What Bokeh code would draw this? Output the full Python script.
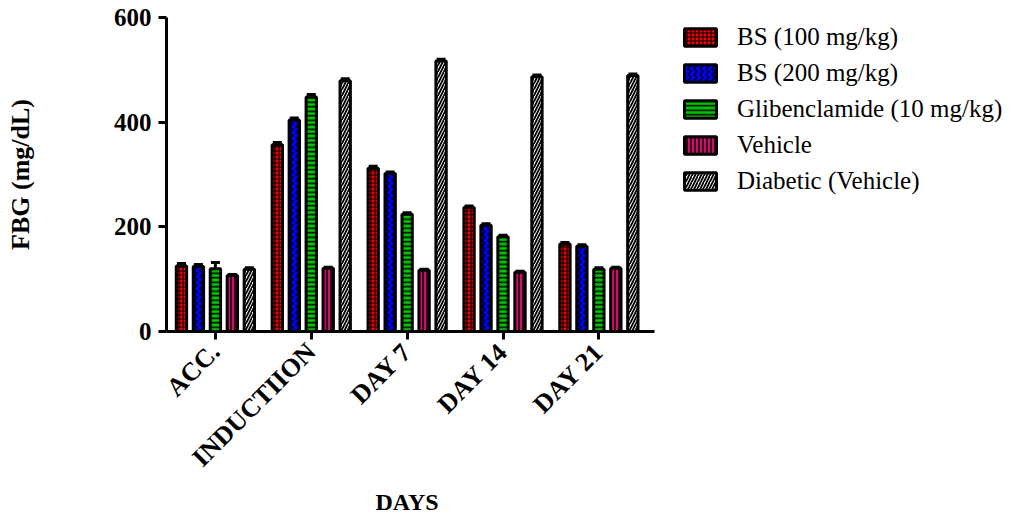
import numpy as np
from bokeh.plotting import figure
from bokeh.models import (Range1d, FixedTicker, Legend, LegendItem, ColumnDataSource,
                          Whisker, TeeHead, Title)
from bokeh.embed import file_html
from bokeh.resources import INLINE

days = ["ACC.", "INDUCTIION", "DAY 7", "DAY 14", "DAY 21"]
series = ["BS (100 mg/kg)", "BS (200 mg/kg)", "Glibenclamide (10 mg/kg)", "Vehicle", "Diabetic (Vehicle)"]
bs100 = [125, 357, 312, 237, 167]
bs200 = [124, 404, 302, 203, 163]
glib = [120, 448, 224, 181, 119]
vehicle = [107, 121, 117, 113, 121]
diabetic = [119, 479, 517, 487, 489]
sem_bs100 = [5, 4, 4, 3, 3]
sem_bs200 = [4, 4, 3, 3, 3]
sem_glib = [12, 5, 3, 3, 3]
sem_vehicle = [2, 2, 2, 2, 2]
sem_diabetic = [3, 4, 3, 3, 3]

values = [bs100, bs200, glib, vehicle, diabetic]
sems = [sem_bs100, sem_bs200, sem_glib, sem_vehicle, sem_diabetic]

fills = ["#FF0000", "#0000FF", "#00C000", "#CC1166", "#FFFFFF"]
hatches = ["cross", "vertical_wave", "horizontal_line", "vertical_line", "right_diagonal_line"]
hscales = [4, 6, 4.5, 4, 6]
hweights = [1.2, 1.5, 1.5, 1.5, 1.8]
offsets = [-0.354, -0.177, 0.0, 0.177, 0.354]

SERIF = "Liberation Serif"
X_START, X_AXIS_END, X_FRAME_END = -0.51, 4.58, 8.502

p = figure(width=1030, height=515, output_backend="svg", toolbar_location=None,
           x_range=Range1d(X_START, X_FRAME_END), y_range=Range1d(0, 600),
           min_border_left=166, min_border_right=0, min_border_top=17, min_border_bottom=184)
p.outline_line_color = None
p.xgrid.visible = False
p.ygrid.visible = False

items = []
for i, s in enumerate(series):
    xs = [j + offsets[i] for j in range(len(days))]
    src = ColumnDataSource(dict(x=xs, top=values[i],
                                upper=[v + e for v, e in zip(values[i], sems[i])],
                                lower=values[i]))
    w = Whisker(source=src, base="x", upper="upper", lower="lower", dimension="height",
                line_color="black", line_width=3,
                upper_head=TeeHead(size=9, line_width=3, line_color="black"), lower_head=None)
    p.add_layout(w)
    r = p.vbar(x="x", top="top", width=0.108, bottom=0, source=src,
               fill_color=fills[i], line_color="black", line_width=3,
               hatch_pattern=hatches[i], hatch_color="black", hatch_scale=hscales[i],
               hatch_weight=hweights[i])
    items.append(LegendItem(label=s, renderers=[r]))

# axes
p.xaxis.bounds = (X_START, X_AXIS_END)
p.xaxis.ticker = FixedTicker(ticks=list(range(len(days))))
p.xaxis.major_label_overrides = {i: d for i, d in enumerate(days)}
p.xaxis.major_label_orientation = np.pi / 4
p.xaxis.minor_tick_line_color = None
p.xaxis.major_tick_in = 0
p.xaxis.major_tick_out = 8
p.xaxis.axis_line_width = 3
p.xaxis.major_tick_line_width = 3
p.xaxis.major_label_text_font = SERIF
p.xaxis.major_label_text_font_style = "bold"
p.xaxis.major_label_text_font_size = "26px"
p.xaxis.major_label_text_color = "black"
p.xaxis.major_label_standoff = 8

# x-axis title centred under the axis itself (not the whole frame)
p.add_layout(Title(text="DAYS", align="left", offset=209, standoff=2,
                   text_font=SERIF, text_font_style="bold", text_font_size="24px",
                   text_color="black"), "below")

p.yaxis.ticker = FixedTicker(ticks=[0, 200, 400, 600])
p.yaxis.minor_tick_line_color = None
p.yaxis.major_tick_in = 0
p.yaxis.major_tick_out = 8
p.yaxis.axis_line_width = 3
p.yaxis.major_tick_line_width = 3
p.yaxis.major_label_text_font = SERIF
p.yaxis.major_label_text_font_style = "bold"
p.yaxis.major_label_text_font_size = "25px"
p.yaxis.major_label_text_color = "black"
p.yaxis.major_label_standoff = 7
p.yaxis.axis_label = "FBG (mg/dL)"
p.yaxis.axis_label_text_font = SERIF
p.yaxis.axis_label_text_font_style = "bold"
p.yaxis.axis_label_text_font_size = "26px"
p.yaxis.axis_label_text_color = "black"
p.yaxis.axis_label_standoff = 76

legend = Legend(items=items, location=(514, 136), margin=0, padding=0,
                glyph_width=40, glyph_height=22, label_standoff=17, spacing=8,
                label_text_font=SERIF, label_text_font_size="25px",
                label_text_color="black",
                border_line_color=None, background_fill_alpha=0)
p.add_layout(legend)

open("out.html", "w").write(file_html(p, INLINE))
